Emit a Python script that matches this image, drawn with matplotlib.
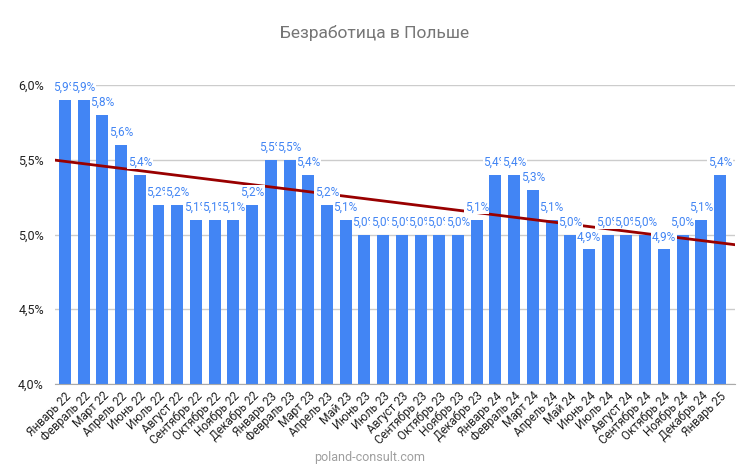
import numpy as np
import matplotlib
matplotlib.use("Agg")
import matplotlib.pyplot as plt
from matplotlib.patches import FancyBboxPatch

categories = ["Январь 22", "Февраль 22", "Март 22", "Апрель 22", "Июнь 22", "Июль 22",
              "Август 22", "Сентябрь 22", "Октябрь 22", "Ноябрь 22", "Декабрь 22",
              "Январь 23", "Февраль 23", "Март 23", "Апрель 23", "Май 23", "Июнь 23",
              "Июль 23", "Август 23", "Сентябрь 23", "Октябрь 23", "Ноябрь 23",
              "Декабрь 23", "Январь 24", "Февраль 24", "Март 24", "Апрель 24", "Май 24",
              "Июнь 24", "Июль 24", "Август 24", "Сентябрь 24", "Октябрь 24",
              "Ноябрь 24", "Декабрь 24", "Январь 25"]
values = [5.9, 5.9, 5.8, 5.6, 5.4, 5.2, 5.2, 5.1, 5.1, 5.1, 5.2,
          5.5, 5.5, 5.4, 5.2, 5.1, 5.0, 5.0, 5.0, 5.0, 5.0, 5.0, 5.1,
          5.4, 5.4, 5.3, 5.1, 5.0, 4.9, 5.0, 5.0, 5.0, 4.9, 5.0, 5.1, 5.4]
yticks = [4.0, 4.5, 5.0, 5.5, 6.0]

title = "Безработица в Польше"
footer = "poland-consult.com"

plt.rcParams['font.family'] = ['Roboto', 'DejaVu Sans']

fig = plt.figure(figsize=(7.5, 4.66), dpi=100)
ax = fig.add_axes([55/750, 1 - 384/466, 680/750, (384 - 85)/466])

x = np.arange(len(values))
bar_color = "#4285F4"
bars = ax.bar(x, [v - 4.0 for v in values], bottom=4.0, width=0.64,
              color=bar_color, zorder=2)

ax.set_xlim(-0.53, len(values) - 0.2)
ax.set_ylim(4.0, 6.0)

# grid
ax.set_yticks(yticks)
ax.set_yticklabels([f"{t:.1f}%".replace(".", ",") for t in yticks],
                   fontsize=9, color="#222222")
ax.yaxis.grid(True, color="#cccccc", linewidth=1, zorder=0)
ax.set_axisbelow(True)
ax.tick_params(axis='y', length=0, pad=8)
for s in ["top", "right", "left"]:
    ax.spines[s].set_visible(False)
ax.spines["bottom"].set_color("#aaaaaa")

ax.set_xticks(x)
ax.set_xticklabels(categories, rotation=45, ha="right", rotation_mode="anchor",
                   fontsize=8.5, color="#222222")
ax.tick_params(axis='x', length=0, pad=4)

# trend line from data
coef = np.polyfit(x, values, 1)
xl = np.array(ax.get_xlim())
ax.plot(xl, np.polyval(coef, xl), color="#990000", linewidth=2, zorder=4)

# data labels; later labels cover earlier ones
for xi, v in zip(x, values):
    ax.text(xi, v + 0.04, f"{v:.1f}%".replace(".", ","), ha="center", va="bottom",
            fontsize=8.5, color=bar_color, zorder=5, clip_on=False,
            bbox=dict(boxstyle="square,pad=0.05", facecolor="white",
                      edgecolor="none"))

fig.text(0.5, 1 - 33/466, title, ha="center", va="center", fontsize=12.5,
         color="#757575")
fig.text(370/750, 1 - 457/466, footer, ha="center", va="center", fontsize=9,
         color="#9e9e9e")

fig.savefig("out.png", dpi=100)
